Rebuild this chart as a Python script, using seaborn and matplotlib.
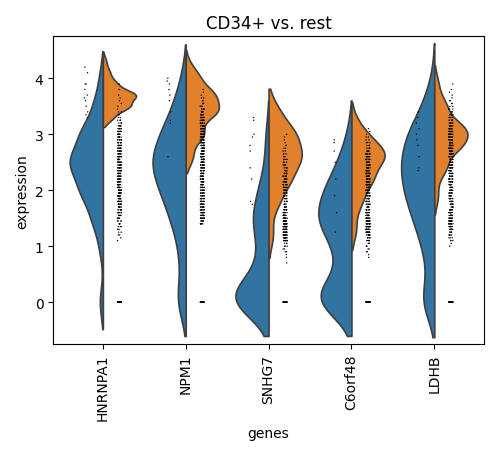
import numpy as np
import pandas as pd
import matplotlib
matplotlib.use("Agg")
import matplotlib.pyplot as plt
import seaborn as sns

genes = ["HNRNPA1", "NPM1", "SNHG7", "C6orf48", "LDHB"]
groups = ["CD34+", "rest"]

# violin data: (values, counts) read from the shapes
blue_vals = {
    "HNRNPA1": ([0, 1.0, 1.5, 2.0, 2.5, 3.0, 3.5, 4.0], [2, 2, 6, 12, 18, 12, 5, 2]),
    "NPM1": ([0, 0.5, 1.0, 1.5, 2.0, 2.5, 3.0, 3.5, 4.0], [4, 2, 3, 6, 10, 14, 10, 5, 2]),
    "SNHG7": ([0, 0.2, 0.5, 1.0, 1.5, 2.0, 2.5, 3.0], [10, 4, 3, 3, 5, 3, 1, 1]),
    "C6orf48": ([0, 0.2, 0.5, 1.0, 1.5, 2.0, 2.5, 3.0], [7, 3, 2, 4, 8, 6, 3, 1]),
    "LDHB": ([0, 0.5, 1.0, 1.5, 2.0, 2.5, 3.0, 3.5, 4.0], [5, 2, 4, 7, 10, 11, 9, 4, 1]),
}
orange_vals = {
    "HNRNPA1": ([3.3, 3.5, 3.7, 3.9, 4.1, 4.3], [3, 8, 10, 4, 2, 1]),
    "NPM1": ([2.6, 3.0, 3.4, 3.7, 4.0, 4.2], [2, 5, 8, 7, 3, 1]),
    "SNHG7": ([1.2, 1.8, 2.2, 2.6, 3.0, 3.4], [1, 2, 4, 6, 5, 2]),
    "C6orf48": ([1.3, 1.8, 2.2, 2.6, 2.9, 3.2], [1, 2, 4, 6, 3, 1]),
    "LDHB": ([1.9, 2.4, 2.8, 3.1, 3.5, 3.9], [1, 3, 6, 7, 3, 1]),
}

# sparse strip points (CD34+)
left_pts = {
    "HNRNPA1": [4.2, 4.1, 3.9, 3.8, 3.7, 3.65, 3.6, 3.5, 3.4, 3.35, 3.3, 3.9],
    "NPM1": [4.0, 3.95, 3.9, 3.8, 3.7, 3.6, 3.4, 3.25, 3.2, 2.6],
    "SNHG7": [3.3, 3.25, 3.0, 2.95, 2.8, 2.7, 2.4, 2.2, 1.8, 1.75],
    "C6orf48": [2.9, 2.85, 2.7, 2.5, 2.2, 1.9, 1.6, 1.25],
    "LDHB": [3.4, 3.3, 3.2, 3.1, 3.0, 2.9, 2.8, 2.6, 2.4, 2.35],
}
# dense strip points (rest): counts per 0.1 level from 0.7 to 4.0, plus zeros
levels = np.round(np.arange(0.7, 4.01, 0.1), 1)
right_counts = {
    "HNRNPA1": [0, 0, 0, 0, 2, 4, 6, 8, 10, 14, 16, 18, 20, 20, 20, 20, 20, 20, 20, 18, 18, 16, 16, 14, 12, 8, 4, 3, 2, 2, 1, 1, 1, 0],
    "NPM1": [0, 0, 0, 0, 0, 0, 0, 14, 20, 20, 18, 16, 16, 16, 18, 20, 20, 20, 22, 22, 22, 22, 22, 20, 18, 16, 12, 10, 6, 4, 2, 1, 0, 0],
    "SNHG7": [1, 2, 4, 6, 22, 28, 30, 28, 22, 14, 10, 10, 12, 14, 16, 14, 12, 10, 8, 6, 4, 3, 2, 1, 0, 0, 0, 0, 0, 0, 0, 0, 0, 0],
    "C6orf48": [0, 2, 4, 6, 10, 22, 26, 26, 22, 16, 12, 14, 18, 20, 22, 22, 22, 20, 18, 16, 10, 6, 4, 2, 1, 0, 0, 0, 0, 0, 0, 0, 0, 0],
    "LDHB": [0, 0, 0, 2, 6, 10, 16, 20, 18, 16, 14, 14, 14, 14, 16, 16, 18, 18, 18, 20, 20, 20, 20, 18, 16, 14, 10, 6, 4, 3, 2, 1, 1, 0],
}
zero_count = 40

vrows = []
for g in genes:
    for v, c in zip(*blue_vals[g]):
        vrows += [(g, "CD34+", v)] * c
    for v, c in zip(*orange_vals[g]):
        vrows += [(g, "rest", v)] * c
vdf = pd.DataFrame(vrows, columns=["genes", "group", "expression"])

srows = []
for g in genes:
    srows += [(g, "CD34+", v) for v in left_pts[g]]
    for v, c in zip(levels, right_counts[g]):
        h = c // 2
        srows += [(g, "rest", v)] * (c - h) + [(g, "rest", v + 0.05)] * h
    srows += [(g, "rest", 0.0)] * zero_count
sdf = pd.DataFrame(srows, columns=["genes", "group", "expression"])

fig, ax = plt.subplots(figsize=(4.99, 4.56), dpi=100)
pal = {"CD34+": "#1f77b4", "rest": "#ff7f0e"}
sns.violinplot(data=vdf, x="genes", y="expression", hue="group",
               hue_order=groups, order=genes, split=True, inner=None, cut=1.8,
               density_norm="width", palette=pal, linewidth=1.2, bw_adjust=0.75,
               width=0.8, ax=ax, legend=False)
sns.stripplot(data=sdf, x="genes", y="expression", hue="group", hue_order=groups,
              order=genes, dodge=True, jitter=0.05, size=1, palette=["black", "black"],
              ax=ax, legend=False)
ax.set_title("CD34+ vs. rest")
ax.set_xlim(-0.6, 4.6)
ax.set_ylim(-0.75, 4.75)
plt.xticks(rotation=90)
plt.tight_layout()
plt.savefig("out.png", dpi=100)
